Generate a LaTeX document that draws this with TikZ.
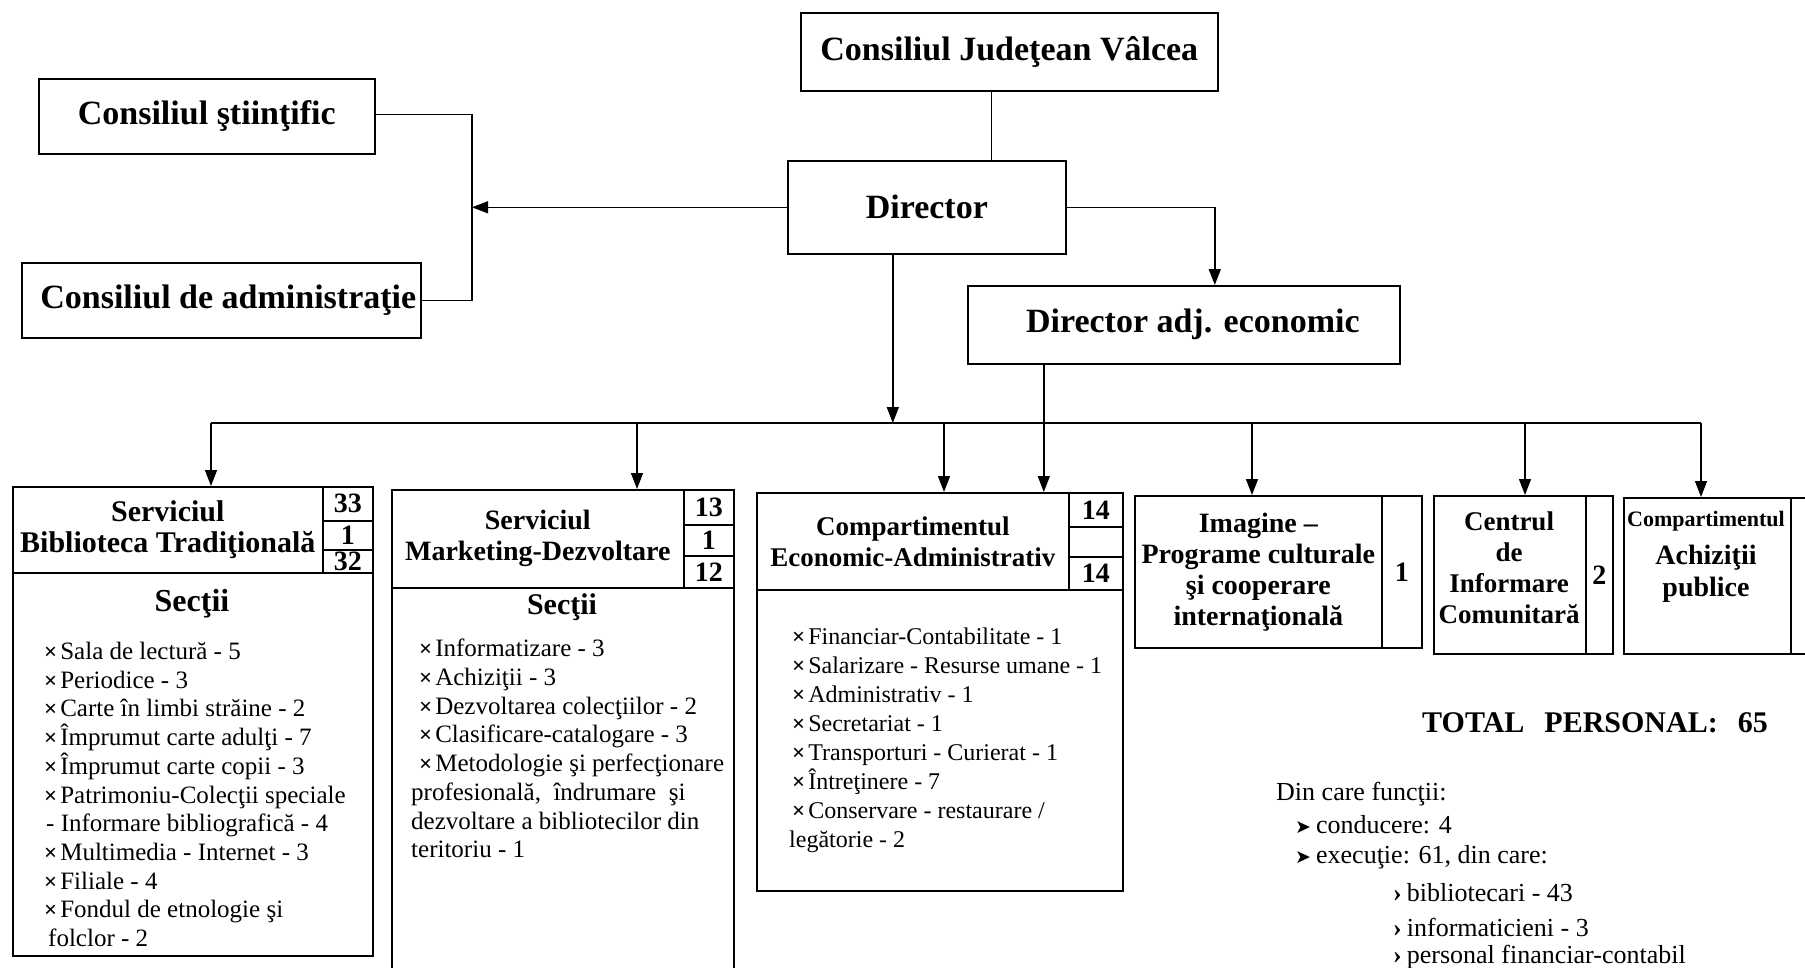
\documentclass[tikz,border=0pt]{standalone}
\usepackage{fontspec}
\setmainfont{Liberation Serif}
\newfontfamily\dejavu{DejaVu Sans}
\usetikzlibrary{arrows.meta}
\newcommand\fs[2]{\fontsize{#1}{#2}\selectfont}
\newcommand\bu{{\bfseries\fs{23}{23}×}\hspace{3pt}}
\newcommand\arrbu{{\dejavu\fs{19}{19}➤}\hspace{5pt}}
\newcommand\subbu{{\bfseries ›}\hspace{5pt}}
\begin{document}
\begin{tikzpicture}[x=1pt,y=-1pt,
  box/.style={draw, line width=1.6pt, inner sep=0pt, anchor=north west, align=center},
  conn/.style={line width=1.4pt},
  arr/.style={conn,-{Triangle[width=12pt,length=16pt]}},
  toptext/.style={font=\bfseries\fs{34}{40}},
  hd/.style={font=\bfseries\fs{#1}{31}},
  num/.style={font=\bfseries\fs{28}{30}},
  listtext/.style={anchor=north west, inner sep=0pt, align=left, font=\fs{25}{28.7}},
  side/.style={anchor=west, inner sep=0pt, font=\fs{26}{30}}]
\useasboundingbox (0,0) rectangle (1805,967);

% ---- top level
\node[box,toptext,minimum width=417pt,minimum height=78pt] (cjv) at (800,12) {Consiliul Judeţean Vâlcea};
\node[box,toptext,minimum width=278pt,minimum height=93pt] (dir) at (787,160) {Director};
\node[box,toptext,minimum width=432pt,minimum height=78pt] (adj) at (967,285) {\hspace{18pt}Director adj. economic};
\node[box,toptext,minimum width=336pt,minimum height=75pt] (cs) at (38,78) {Consiliul ştiinţific};
\node[box,toptext,minimum width=399pt,minimum height=75pt] (ca) at (21,262) {\hspace{14pt}Consiliul de administraţie};

\coordinate (vx) at (472,0);
\coordinate (bus) at (0,423);
\coordinate (b1) at (211,423);
\coordinate (b2) at (637,423);
\coordinate (b3) at (944,423);
\coordinate (b4) at (1252,423);
\coordinate (b5) at (1525,423);
\coordinate (b6) at (1701,423);

% ---- bottom boxes
% Serviciul Biblioteca Traditionala
\node[box,minimum width=360pt,minimum height=469pt] (sbt) at (12,486) {};
\node[box,hd=30,minimum width=310pt,minimum height=86pt] (sbth) at (12,486) {Serviciul\\Biblioteca Tradiţională};
\node[box,num,minimum width=50pt,minimum height=34pt] (sbt1) at (322,486) {33};
\node[box,num,minimum width=50pt,minimum height=29pt] (sbt2) at (322,520) {1};
\node[box,num,minimum width=50pt,minimum height=23pt] (sbt3) at (322,549) {32};
\node[font=\bfseries\fs{32}{34}] (sbts) at (192,604) {Secţii};
\node[listtext] (sbtl) at (44,642) {\bu Sala de lectură - 5\\
\bu Periodice - 3\\
\bu Carte în limbi străine - 2\\
\bu Împrumut carte adulţi - 7\\
\bu Împrumut carte copii - 3\\
\bu Patrimoniu-Colecţii speciale\\
\hspace{2pt}- Informare bibliografică - 4\\
\bu Multimedia - Internet - 3\\
\bu Filiale - 4\\
\bu Fondul de etnologie şi\\
\hspace{4pt}folclor - 2};

% Serviciul Marketing-Dezvoltare
\node[box,minimum width=342pt,minimum height=500pt] (smd) at (391,489) {};
\node[box,hd=28,minimum width=292pt,minimum height=98pt] (smdh) at (391,489) {Serviciul\\Marketing-Dezvoltare};
\node[box,num,minimum width=50pt,minimum height=35pt] (smd1) at (683,489) {13};
\node[box,num,minimum width=50pt,minimum height=31pt] (smd2) at (683,524) {1};
\node[box,num,minimum width=50pt,minimum height=32pt] (smd3) at (683,555) {12};
\node[font=\bfseries\fs{30}{34}] (smds) at (562,607) {Secţii};
\node[listtext] (smdl) at (411,639) {\hspace{8pt}\bu Informatizare - 3\\
\hspace{8pt}\bu Achiziţii - 3\\
\hspace{8pt}\bu Dezvoltarea colecţiilor - 2\\
\hspace{8pt}\bu Clasificare-catalogare - 3\\
\hspace{8pt}\bu Metodologie şi perfecţionare\\
profesională, \ îndrumare \ şi\\
dezvoltare a bibliotecilor din\\
teritoriu - 1};

% Compartimentul Economic-Administrativ
\node[box,minimum width=366pt,minimum height=398pt] (cea) at (756,492) {};
\node[box,hd=27,minimum width=312pt,minimum height=97pt] (ceah) at (756,492) {Compartimentul\\Economic-Administrativ};
\node[box,num,minimum width=54pt,minimum height=34pt] (cea1) at (1068,492) {14};
\node[box,num,minimum width=54pt,minimum height=30pt] (cea2) at (1068,526) {};
\node[box,num,minimum width=54pt,minimum height=33pt] (cea3) at (1068,556) {14};
\node[listtext,font=\fs{24}{28.9}] (ceal) at (789,628) {\hspace{3pt}\bu Financiar-Contabilitate - 1\\
\hspace{3pt}\bu Salarizare - Resurse umane - 1\\
\hspace{3pt}\bu Administrativ - 1\\
\hspace{3pt}\bu Secretariat - 1\\
\hspace{3pt}\bu Transporturi - Curierat - 1\\
\hspace{3pt}\bu Întreţinere - 7\\
\hspace{3pt}\bu Conservare - restaurare /\\
legătorie - 2};

% Imagine
\node[box,hd=28,minimum width=247pt,minimum height=152pt] (img) at (1134,495) {Imagine –\\Programe culturale\\şi cooperare\\internaţională};
\node[box,num,minimum width=40pt,minimum height=152pt] (imgn) at (1381,495) {1};

% Centrul de Informare Comunitara
\node[box,minimum width=152pt,minimum height=158pt] (cic) at (1433,495) {};
\node[hd=27,align=center,inner sep=0pt] (cict) at (1509,568) {Centrul\\de\\Informare\\Comunitară};
\node[box,num,minimum width=27pt,minimum height=158pt] (cicn) at (1585,495) {2};

% Compartimentul Achizitii publice
\node[box,minimum width=167pt,minimum height=156pt] (ach) at (1623,497) {};
\node[align=center,inner sep=0pt,font=\bfseries\fs{28}{32}] (acht) at (1706,557) {{\fs{22}{26}Compartimentul}\\[6pt]Achiziţii\\publice};
\node[box,num,minimum width=40pt,minimum height=156pt] (achn) at (1790,497) {1};

% ---- connectors
\draw[conn] ([xshift=-18pt]cjv.south) -- ([xshift=-18pt]cjv.south |- dir.north);
\draw[conn] ([yshift=2pt]cs.east) -| (vx |- ca.east) -- (ca.east);
\draw[arr] (dir.west) -- (dir.west -| vx);
\draw[arr] (dir.east) -| ([xshift=31pt]adj.north);
\draw[arr] ([xshift=-34pt]dir.south) -- ([xshift=-34pt]dir.south |- bus);
\draw[conn] (b1) -- (b6);
\draw[arr] ([xshift=-140pt]adj.south) -- ([xshift=-140pt]adj.south |- cea.north);
\draw[arr] (b1) -- (b1 |- sbt.north);
\draw[arr] (b2) -- (b2 |- smd.north);
\draw[arr] (b3) -- (b3 |- cea.north);
\draw[arr] (b4) -- (b4 |- img.north);
\draw[arr] (b5) -- (b5 |- cic.north);
\draw[arr] (b6) -- (b6 |- ach.north);

% ---- totals
\node[side,font=\bfseries\fs{30}{34}] (tot) at (1422,723) {TOTAL\hspace{20pt}PERSONAL:\hspace{20pt}65};
\node[side] (din) at (1276,794) {Din care funcţii:};
\node[side] (cond) at (1295,825) {\arrbu conducere: 4};
\node[side] (exe) at (1295,857) {\arrbu execuţie: 61, din care:};
\node[side] (bib) at (1393,893) {\subbu bibliotecari - 43};
\node[side] (inf) at (1393,927) {\subbu informaticieni - 3};
\node[side] (pfc) at (1393,957) {\subbu personal financiar-contabil};
\end{tikzpicture}
\end{document}
